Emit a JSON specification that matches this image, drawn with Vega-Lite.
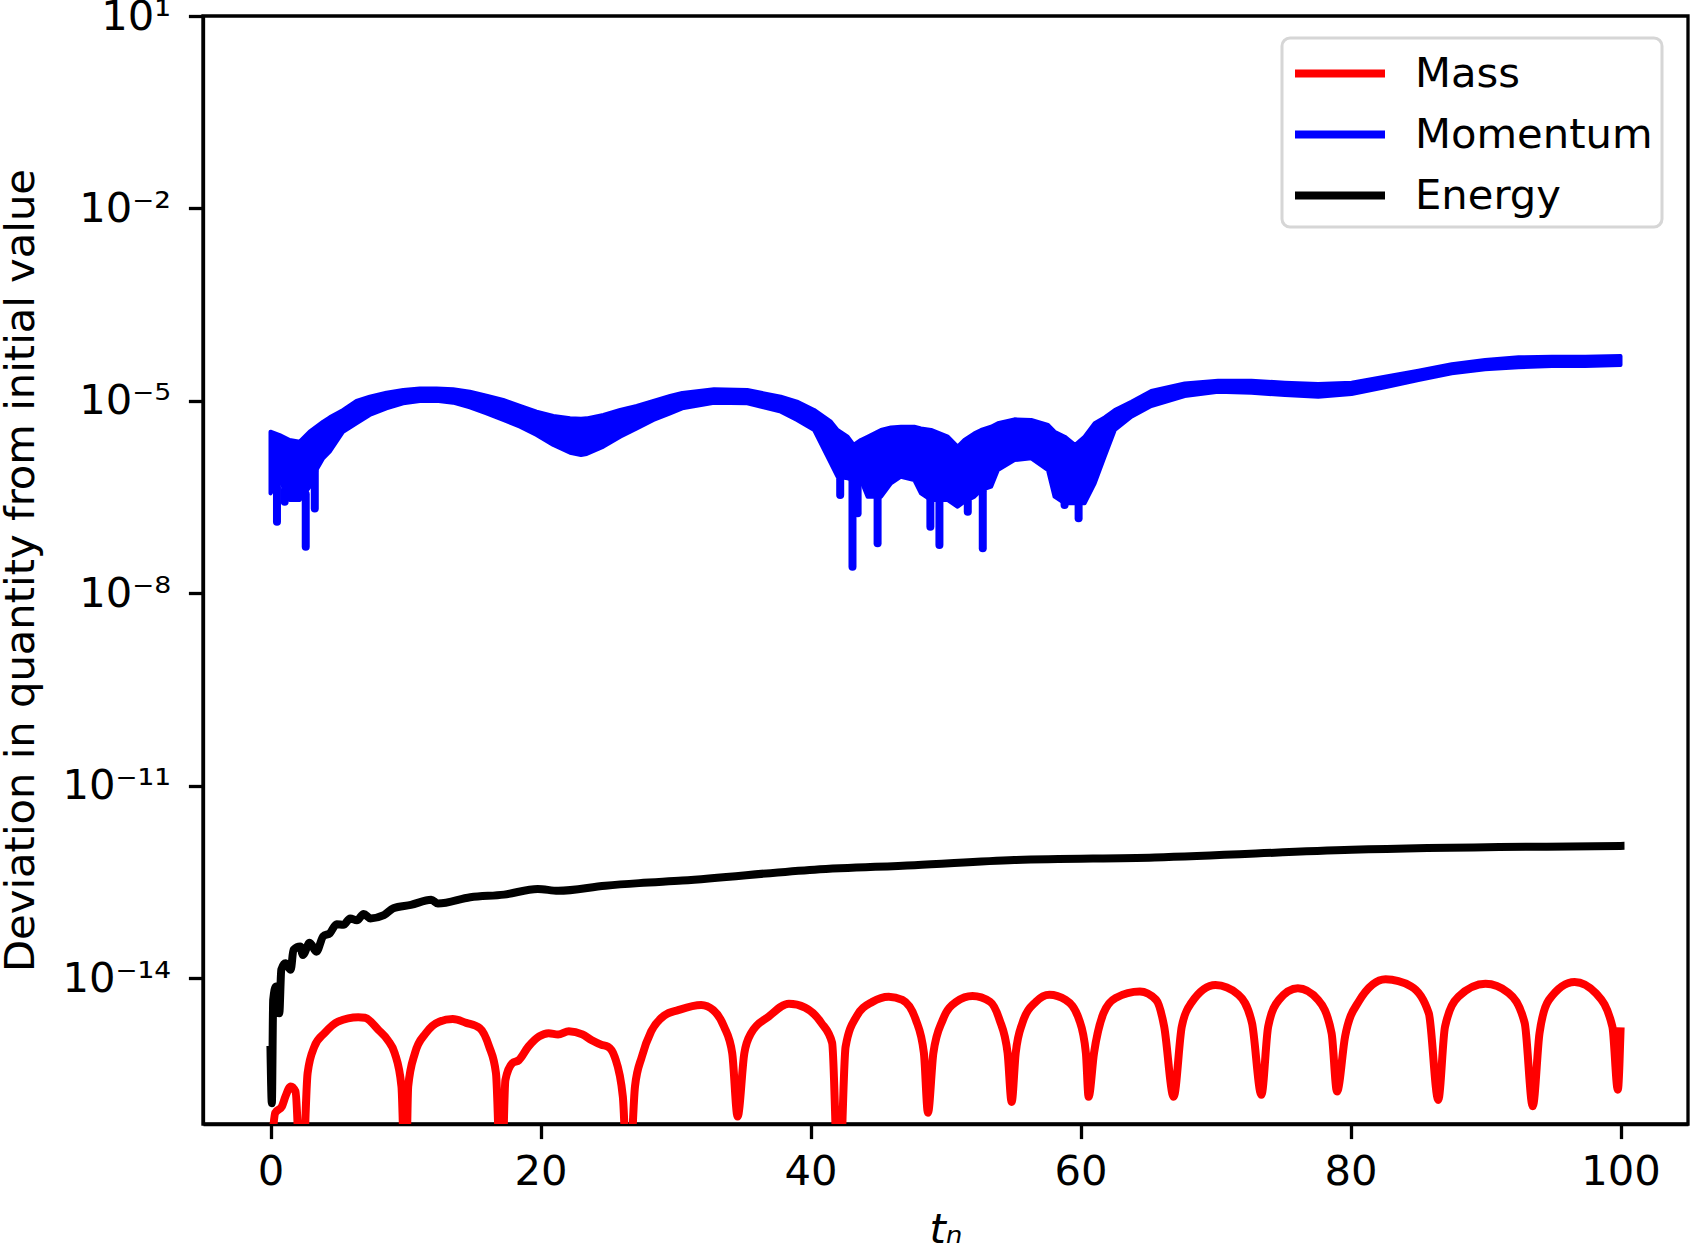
{
  "$schema": "https://vega.github.io/schema/vega-lite/v6.json",
  "width": 1485,
  "height": 1108,
  "autosize": {"type": "none"},
  "padding": {"left": 203, "top": 16, "right": 3, "bottom": 129},
  "background": "white",
  "config": {
    "font": "DejaVu Sans",
    "view": {"stroke": "black", "strokeWidth": 3.3},
    "axis": {
      "labelFont": "DejaVu Sans",
      "titleFont": "DejaVu Sans",
      "labelFontSize": 41.7,
      "titleFontSize": 41.7,
      "titleFontWeight": "normal",
      "labelColor": "black",
      "titleColor": "black",
      "domainColor": "black",
      "tickColor": "black",
      "domainWidth": 3.3,
      "tickWidth": 3.3,
      "tickSize": 14.6,
      "grid": false
    },
    "legend": {"strokeWidth": 3}
  },
  "datasets": {
    "lines": [
      {"s": "Mass", "t": 0.1, "v": 2.5e-17},
      {"s": "Mass", "t": 0.35, "v": 7.9e-17},
      {"s": "Mass", "t": 0.85, "v": 1.0e-16},
      {"s": "Mass", "t": 1.1, "v": 1.41e-16},
      {"s": "Mass", "t": 1.5, "v": 2.04e-16},
      {"s": "Mass", "t": 1.85, "v": 1.7e-16},
      {"s": "Mass", "t": 2.3, "v": 3.2e-18},
      {"s": "Mass", "t": 2.75, "v": 3.31e-16},
      {"s": "Mass", "t": 3.25, "v": 8.51e-16},
      {"s": "Mass", "t": 4.0, "v": 1.38e-15},
      {"s": "Mass", "t": 5.0, "v": 2.09e-15},
      {"s": "Mass", "t": 6.5, "v": 2.45e-15},
      {"s": "Mass", "t": 7.0, "v": 2.4e-15},
      {"s": "Mass", "t": 8.0, "v": 1.55e-15},
      {"s": "Mass", "t": 8.7, "v": 1.07e-15},
      {"s": "Mass", "t": 9.2, "v": 6.76e-16},
      {"s": "Mass", "t": 9.7, "v": 2.04e-16},
      {"s": "Mass", "t": 10.0, "v": 3.2e-18},
      {"s": "Mass", "t": 10.2, "v": 2.04e-16},
      {"s": "Mass", "t": 10.7, "v": 6.76e-16},
      {"s": "Mass", "t": 11.5, "v": 1.38e-15},
      {"s": "Mass", "t": 12.5, "v": 2.09e-15},
      {"s": "Mass", "t": 13.5, "v": 2.29e-15},
      {"s": "Mass", "t": 14.5, "v": 2.0e-15},
      {"s": "Mass", "t": 15.5, "v": 1.66e-15},
      {"s": "Mass", "t": 16.2, "v": 8.51e-16},
      {"s": "Mass", "t": 16.7, "v": 3.31e-16},
      {"s": "Mass", "t": 17.1, "v": 3.2e-18},
      {"s": "Mass", "t": 17.4, "v": 2.57e-16},
      {"s": "Mass", "t": 17.9, "v": 4.68e-16},
      {"s": "Mass", "t": 18.4, "v": 5.25e-16},
      {"s": "Mass", "t": 19.1, "v": 8.51e-16},
      {"s": "Mass", "t": 19.9, "v": 1.23e-15},
      {"s": "Mass", "t": 20.6, "v": 1.38e-15},
      {"s": "Mass", "t": 21.3, "v": 1.32e-15},
      {"s": "Mass", "t": 22.1, "v": 1.48e-15},
      {"s": "Mass", "t": 23.1, "v": 1.32e-15},
      {"s": "Mass", "t": 23.8, "v": 1.07e-15},
      {"s": "Mass", "t": 24.5, "v": 9.12e-16},
      {"s": "Mass", "t": 25.0, "v": 8.51e-16},
      {"s": "Mass", "t": 25.5, "v": 5.89e-16},
      {"s": "Mass", "t": 26.1, "v": 1.41e-16},
      {"s": "Mass", "t": 26.5, "v": 3.2e-18},
      {"s": "Mass", "t": 27.0, "v": 2.04e-16},
      {"s": "Mass", "t": 27.5, "v": 5.89e-16},
      {"s": "Mass", "t": 28.2, "v": 1.48e-15},
      {"s": "Mass", "t": 29.2, "v": 2.63e-15},
      {"s": "Mass", "t": 30.2, "v": 3.16e-15},
      {"s": "Mass", "t": 31.9, "v": 3.8e-15},
      {"s": "Mass", "t": 32.8, "v": 3.16e-15},
      {"s": "Mass", "t": 33.6, "v": 1.74e-15},
      {"s": "Mass", "t": 34.2, "v": 6.76e-16},
      {"s": "Mass", "t": 34.6, "v": 6.92e-17},
      {"s": "Mass", "t": 35.1, "v": 6.76e-16},
      {"s": "Mass", "t": 35.6, "v": 1.38e-15},
      {"s": "Mass", "t": 36.9, "v": 2.51e-15},
      {"s": "Mass", "t": 38.4, "v": 3.98e-15},
      {"s": "Mass", "t": 39.6, "v": 3.47e-15},
      {"s": "Mass", "t": 40.8, "v": 2.0e-15},
      {"s": "Mass", "t": 41.6, "v": 9.77e-16},
      {"s": "Mass", "t": 42.1, "v": 3.2e-18},
      {"s": "Mass", "t": 42.6, "v": 8.51e-16},
      {"s": "Mass", "t": 43.4, "v": 2.51e-15},
      {"s": "Mass", "t": 44.6, "v": 4.27e-15},
      {"s": "Mass", "t": 45.8, "v": 5.13e-15},
      {"s": "Mass", "t": 46.8, "v": 4.57e-15},
      {"s": "Mass", "t": 47.8, "v": 2.24e-15},
      {"s": "Mass", "t": 48.4, "v": 6.76e-16},
      {"s": "Mass", "t": 48.7, "v": 7.94e-17},
      {"s": "Mass", "t": 49.1, "v": 6.76e-16},
      {"s": "Mass", "t": 49.8, "v": 2.24e-15},
      {"s": "Mass", "t": 50.8, "v": 4.27e-15},
      {"s": "Mass", "t": 52.0, "v": 5.25e-15},
      {"s": "Mass", "t": 53.3, "v": 4.27e-15},
      {"s": "Mass", "t": 54.0, "v": 2.24e-15},
      {"s": "Mass", "t": 54.6, "v": 6.76e-16},
      {"s": "Mass", "t": 54.9, "v": 1.17e-16},
      {"s": "Mass", "t": 55.2, "v": 6.76e-16},
      {"s": "Mass", "t": 55.7, "v": 2.0e-15},
      {"s": "Mass", "t": 56.7, "v": 4.27e-15},
      {"s": "Mass", "t": 57.7, "v": 5.5e-15},
      {"s": "Mass", "t": 58.9, "v": 4.57e-15},
      {"s": "Mass", "t": 59.9, "v": 2.24e-15},
      {"s": "Mass", "t": 60.4, "v": 6.76e-16},
      {"s": "Mass", "t": 60.6, "v": 1.41e-16},
      {"s": "Mass", "t": 61.0, "v": 6.76e-16},
      {"s": "Mass", "t": 61.7, "v": 2.82e-15},
      {"s": "Mass", "t": 62.6, "v": 4.9e-15},
      {"s": "Mass", "t": 64.4, "v": 6.17e-15},
      {"s": "Mass", "t": 65.6, "v": 4.57e-15},
      {"s": "Mass", "t": 66.2, "v": 1.74e-15},
      {"s": "Mass", "t": 66.9, "v": 1.41e-16},
      {"s": "Mass", "t": 67.5, "v": 1.74e-15},
      {"s": "Mass", "t": 68.2, "v": 4.07e-15},
      {"s": "Mass", "t": 70.0, "v": 7.76e-15},
      {"s": "Mass", "t": 71.7, "v": 5.5e-15},
      {"s": "Mass", "t": 72.7, "v": 2.0e-15},
      {"s": "Mass", "t": 73.4, "v": 1.51e-16},
      {"s": "Mass", "t": 73.9, "v": 1.74e-15},
      {"s": "Mass", "t": 74.7, "v": 4.57e-15},
      {"s": "Mass", "t": 76.1, "v": 6.92e-15},
      {"s": "Mass", "t": 77.6, "v": 4.57e-15},
      {"s": "Mass", "t": 78.6, "v": 1.38e-15},
      {"s": "Mass", "t": 79.0, "v": 1.7e-16},
      {"s": "Mass", "t": 79.6, "v": 1.23e-15},
      {"s": "Mass", "t": 80.6, "v": 4.27e-15},
      {"s": "Mass", "t": 82.6, "v": 9.55e-15},
      {"s": "Mass", "t": 84.5, "v": 7.41e-15},
      {"s": "Mass", "t": 85.8, "v": 2.82e-15},
      {"s": "Mass", "t": 86.5, "v": 1.26e-16},
      {"s": "Mass", "t": 87.0, "v": 1.74e-15},
      {"s": "Mass", "t": 88.0, "v": 5.13e-15},
      {"s": "Mass", "t": 90.0, "v": 8.13e-15},
      {"s": "Mass", "t": 91.7, "v": 5.89e-15},
      {"s": "Mass", "t": 92.9, "v": 2.0e-15},
      {"s": "Mass", "t": 93.5, "v": 1.0e-16},
      {"s": "Mass", "t": 94.0, "v": 1.38e-15},
      {"s": "Mass", "t": 94.7, "v": 4.57e-15},
      {"s": "Mass", "t": 96.6, "v": 8.71e-15},
      {"s": "Mass", "t": 98.2, "v": 5.75e-15},
      {"s": "Mass", "t": 99.4, "v": 1.74e-15},
      {"s": "Mass", "t": 99.8, "v": 1.82e-16},
      {"s": "Mass", "t": 100.0, "v": 1.48e-15},
      {"s": "Energy", "t": 0.0, "v": 7.6e-16},
      {"s": "Energy", "t": 0.1, "v": 1.12e-16},
      {"s": "Energy", "t": 0.2, "v": 4.57e-15},
      {"s": "Energy", "t": 0.4, "v": 7.41e-15},
      {"s": "Energy", "t": 0.65, "v": 2.82e-15},
      {"s": "Energy", "t": 0.8, "v": 1.35e-14},
      {"s": "Energy", "t": 1.1, "v": 1.7e-14},
      {"s": "Energy", "t": 1.5, "v": 1.35e-14},
      {"s": "Energy", "t": 1.7, "v": 2.75e-14},
      {"s": "Energy", "t": 2.2, "v": 3.09e-14},
      {"s": "Energy", "t": 2.4, "v": 2.29e-14},
      {"s": "Energy", "t": 2.9, "v": 3.55e-14},
      {"s": "Energy", "t": 3.4, "v": 2.57e-14},
      {"s": "Energy", "t": 3.9, "v": 4.47e-14},
      {"s": "Energy", "t": 4.4, "v": 5.01e-14},
      {"s": "Energy", "t": 4.9, "v": 6.92e-14},
      {"s": "Energy", "t": 5.4, "v": 6.76e-14},
      {"s": "Energy", "t": 5.9, "v": 8.51e-14},
      {"s": "Energy", "t": 6.4, "v": 7.94e-14},
      {"s": "Energy", "t": 6.9, "v": 1.0e-13},
      {"s": "Energy", "t": 7.4, "v": 8.51e-14},
      {"s": "Energy", "t": 8.4, "v": 9.55e-14},
      {"s": "Energy", "t": 9.1, "v": 1.23e-13},
      {"s": "Energy", "t": 10.4, "v": 1.38e-13},
      {"s": "Energy", "t": 11.9, "v": 1.66e-13},
      {"s": "Energy", "t": 12.4, "v": 1.45e-13},
      {"s": "Energy", "t": 14.8, "v": 1.82e-13},
      {"s": "Energy", "t": 17.3, "v": 2.0e-13},
      {"s": "Energy", "t": 19.8, "v": 2.45e-13},
      {"s": "Energy", "t": 21.3, "v": 2.29e-13},
      {"s": "Energy", "t": 24.8, "v": 2.75e-13},
      {"s": "Energy", "t": 27.3, "v": 3.02e-13},
      {"s": "Energy", "t": 30.5, "v": 3.31e-13},
      {"s": "Energy", "t": 40.3, "v": 4.9e-13},
      {"s": "Energy", "t": 47.7, "v": 5.75e-13},
      {"s": "Energy", "t": 55.1, "v": 6.92e-13},
      {"s": "Energy", "t": 65.5, "v": 7.59e-13},
      {"s": "Energy", "t": 80.1, "v": 1.0e-12},
      {"s": "Energy", "t": 100.0, "v": 1.15e-12}
    ],
    "band": [
      {"t": 0.0, "hi": 3.3e-6, "lo": 3.61e-7},
      {"t": 0.68, "hi": 2.93e-6, "lo": 5.82e-7},
      {"t": 1.42, "hi": 2.45e-6, "lo": 2.84e-7},
      {"t": 2.16, "hi": 2.31e-6, "lo": 2.84e-7},
      {"t": 2.9, "hi": 3.3e-6, "lo": 4.58e-7},
      {"t": 3.4, "hi": 3.95e-6, "lo": 8.34e-7},
      {"t": 3.9, "hi": 4.73e-6, "lo": 1.27e-6},
      {"t": 4.39, "hi": 5.52e-6, "lo": 1.61e-6},
      {"t": 5.38, "hi": 7.19e-6, "lo": 3.3e-6},
      {"t": 6.37, "hi": 1.0e-5, "lo": 4.46e-6},
      {"t": 7.35, "hi": 1.16e-5, "lo": 6.01e-6},
      {"t": 8.59, "hi": 1.34e-5, "lo": 7.64e-6},
      {"t": 9.83, "hi": 1.47e-5, "lo": 9.14e-6},
      {"t": 11.06, "hi": 1.56e-5, "lo": 9.93e-6},
      {"t": 12.3, "hi": 1.56e-5, "lo": 1.0e-5},
      {"t": 13.53, "hi": 1.51e-5, "lo": 9.35e-6},
      {"t": 14.77, "hi": 1.39e-5, "lo": 7.91e-6},
      {"t": 16.0, "hi": 1.2e-5, "lo": 6.38e-6},
      {"t": 17.24, "hi": 1.03e-5, "lo": 5.02e-6},
      {"t": 18.48, "hi": 8.3e-6, "lo": 3.95e-6},
      {"t": 19.71, "hi": 6.78e-6, "lo": 2.93e-6},
      {"t": 20.95, "hi": 5.79e-6, "lo": 2.05e-6},
      {"t": 22.19, "hi": 5.33e-6, "lo": 1.55e-6},
      {"t": 23.0, "hi": 5.27e-6, "lo": 1.43e-6},
      {"t": 23.42, "hi": 5.33e-6, "lo": 1.48e-6},
      {"t": 24.66, "hi": 6.01e-6, "lo": 1.93e-6},
      {"t": 25.9, "hi": 7.19e-6, "lo": 2.76e-6},
      {"t": 27.13, "hi": 8.3e-6, "lo": 3.72e-6},
      {"t": 28.37, "hi": 1.0e-5, "lo": 5.02e-6},
      {"t": 29.6, "hi": 1.19e-5, "lo": 6.38e-6},
      {"t": 30.5, "hi": 1.33e-5, "lo": 7.64e-6},
      {"t": 32.85, "hi": 1.51e-5, "lo": 9.35e-6},
      {"t": 35.32, "hi": 1.47e-5, "lo": 9.14e-6},
      {"t": 37.8, "hi": 1.16e-5, "lo": 6.78e-6},
      {"t": 39.0, "hi": 9.7e-6, "lo": 5.02e-6},
      {"t": 40.27, "hi": 7.19e-6, "lo": 3.51e-6},
      {"t": 41.51, "hi": 4.73e-6, "lo": 1.06e-6},
      {"t": 42.0, "hi": 3.51e-6, "lo": 6.56e-7},
      {"t": 42.75, "hi": 2.76e-6, "lo": 6.18e-7},
      {"t": 43.2, "hi": 2.05e-6, "lo": 5.82e-7},
      {"t": 43.73, "hi": 2.45e-6, "lo": 5.82e-7},
      {"t": 44.23, "hi": 2.76e-6, "lo": 3.2e-7},
      {"t": 45.22, "hi": 3.51e-6, "lo": 3.2e-7},
      {"t": 45.96, "hi": 3.85e-6, "lo": 5.16e-7},
      {"t": 46.7, "hi": 3.95e-6, "lo": 6.56e-7},
      {"t": 47.69, "hi": 3.95e-6, "lo": 5.82e-7},
      {"t": 48.18, "hi": 3.72e-6, "lo": 3.61e-7},
      {"t": 48.93, "hi": 3.51e-6, "lo": 2.84e-7},
      {"t": 50.17, "hi": 2.76e-6, "lo": 2.84e-7},
      {"t": 50.9, "hi": 1.93e-6, "lo": 2.23e-7},
      {"t": 51.4, "hi": 2.45e-6, "lo": 2.67e-7},
      {"t": 52.14, "hi": 3.11e-6, "lo": 3.2e-7},
      {"t": 52.64, "hi": 3.51e-6, "lo": 4.06e-7},
      {"t": 53.38, "hi": 3.95e-6, "lo": 4.58e-7},
      {"t": 53.88, "hi": 4.46e-6, "lo": 8.34e-7},
      {"t": 55.11, "hi": 5.14e-6, "lo": 1.19e-6},
      {"t": 56.35, "hi": 5.02e-6, "lo": 1.27e-6},
      {"t": 57.59, "hi": 4.2e-6, "lo": 8.34e-7},
      {"t": 58.08, "hi": 3.3e-6, "lo": 3.2e-7},
      {"t": 58.83, "hi": 2.76e-6, "lo": 2.52e-7},
      {"t": 59.6, "hi": 2.05e-6, "lo": 2.52e-7},
      {"t": 60.3, "hi": 2.76e-6, "lo": 2.52e-7},
      {"t": 61.05, "hi": 4.46e-6, "lo": 5.16e-7},
      {"t": 61.79, "hi": 5.52e-6, "lo": 1.35e-6},
      {"t": 62.54, "hi": 7.19e-6, "lo": 3.51e-6},
      {"t": 63.77, "hi": 9.7e-6, "lo": 5.66e-6},
      {"t": 65.24, "hi": 1.42e-5, "lo": 8.3e-6},
      {"t": 67.72, "hi": 1.87e-5, "lo": 1.19e-5},
      {"t": 70.19, "hi": 2.06e-5, "lo": 1.39e-5},
      {"t": 72.66, "hi": 2.06e-5, "lo": 1.34e-5},
      {"t": 75.14, "hi": 1.92e-5, "lo": 1.23e-5},
      {"t": 77.61, "hi": 1.83e-5, "lo": 1.16e-5},
      {"t": 80.08, "hi": 1.92e-5, "lo": 1.28e-5},
      {"t": 82.55, "hi": 2.38e-5, "lo": 1.62e-5},
      {"t": 85.03, "hi": 2.95e-5, "lo": 2.11e-5},
      {"t": 87.5, "hi": 3.71e-5, "lo": 2.68e-5},
      {"t": 89.97, "hi": 4.33e-5, "lo": 3.1e-5},
      {"t": 92.45, "hi": 4.76e-5, "lo": 3.33e-5},
      {"t": 94.92, "hi": 4.88e-5, "lo": 3.49e-5},
      {"t": 97.39, "hi": 4.88e-5, "lo": 3.49e-5},
      {"t": 100.0, "hi": 5.0e-5, "lo": 3.61e-5}
    ],
    "spikes": [
      {"t": 0.48, "top": 4.5e-7, "tip": 1.3e-7},
      {"t": 1.05, "top": 4.0e-7, "tip": 2.67e-7},
      {"t": 2.61, "top": 3.5e-7, "tip": 5.32e-8},
      {"t": 3.28, "top": 8.0e-7, "tip": 2.1e-7},
      {"t": 42.2, "top": 6.0e-7, "tip": 3.4e-7},
      {"t": 43.11, "top": 6.0e-7, "tip": 2.59e-8},
      {"t": 43.49, "top": 5.8e-7, "tip": 1.76e-7},
      {"t": 44.97, "top": 3.2e-7, "tip": 6.0e-8},
      {"t": 48.88, "top": 2.9e-7, "tip": 1.09e-7},
      {"t": 49.55, "top": 2.9e-7, "tip": 5.65e-8},
      {"t": 51.65, "top": 2.7e-7, "tip": 1.87e-7},
      {"t": 52.76, "top": 3.9e-7, "tip": 5.01e-8},
      {"t": 58.82, "top": 2.6e-7, "tip": 2.37e-7},
      {"t": 59.86, "top": 2.5e-7, "tip": 1.47e-7}
    ]
  },
  "layer": [
    {
      "data": {"name": "lines"},
      "mark": {"type": "line", "strokeWidth": 8, "strokeJoin": "round", "strokeCap": "square", "interpolate": "monotone", "clip": true},
      "encoding": {
        "x": {
          "field": "t",
          "type": "quantitative",
          "scale": {"domain": [-5, 105], "nice": false, "zero": false},
          "axis": {
            "values": [0, 20, 40, 60, 80, 100],
            "labelPadding": 13,
            "title": "tₙ",
            "titleFontStyle": "italic",
            "titleX": 742.5,
            "titleY": 105,
            "titleBaseline": "middle"
          }
        },
        "y": {
          "field": "v",
          "type": "quantitative",
          "scale": {"type": "log", "domain": [5.3e-17, 10], "nice": false},
          "axis": {
            "values": [10, 0.01, 0.00001, 1e-8, 1e-11, 1e-14],
            "labelExpr": "datum.value > 1 ? '10¹' : datum.value > 1e-3 ? '10⁻²' : datum.value > 1e-6 ? '10⁻⁵' : datum.value > 1e-9 ? '10⁻⁸' : datum.value > 1e-12 ? '10⁻¹¹' : '10⁻¹⁴'",
            "labelPadding": 18,
            "title": "Deviation in quantity from initial value",
            "titleX": -183,
            "titleY": 554,
            "titleAngle": -90,
            "titleBaseline": "middle"
          }
        },
        "color": {
          "field": "s",
          "type": "nominal",
          "scale": {"domain": ["Mass", "Momentum", "Energy"], "range": ["#ff0000", "#0000ff", "#000000"]},
          "legend": {
            "title": null,
            "orient": "none",
            "legendX": 1079,
            "legendY": 22,
            "symbolType": "M-1,0H3",
            "symbolSize": 2025,
            "symbolStrokeWidth": 8,
            "labelFont": "DejaVu Sans",
            "labelFontSize": 41.7,
            "labelColor": "black",
            "labelLimit": 0,
            "labelOffset": 71,
            "rowPadding": 12,
            "padding": 9,
            "strokeColor": "#d6d6d6",
            "cornerRadius": 8,
            "fillColor": "rgba(255,255,255,0.8)"
          }
        }
      }
    },
    {
      "data": {"name": "band"},
      "mark": {"type": "area", "color": "#0000ff", "stroke": "#0000ff", "strokeWidth": 4, "strokeJoin": "round", "clip": true},
      "encoding": {
        "x": {"field": "t", "type": "quantitative"},
        "y": {"field": "hi", "type": "quantitative"},
        "y2": {"field": "lo"}
      }
    },
    {
      "data": {"name": "spikes"},
      "mark": {"type": "rule", "color": "#0000ff", "strokeWidth": 8, "strokeCap": "round"},
      "encoding": {
        "x": {"field": "t", "type": "quantitative"},
        "y": {"field": "top", "type": "quantitative"},
        "y2": {"field": "tip"}
      }
    }
  ]
}
